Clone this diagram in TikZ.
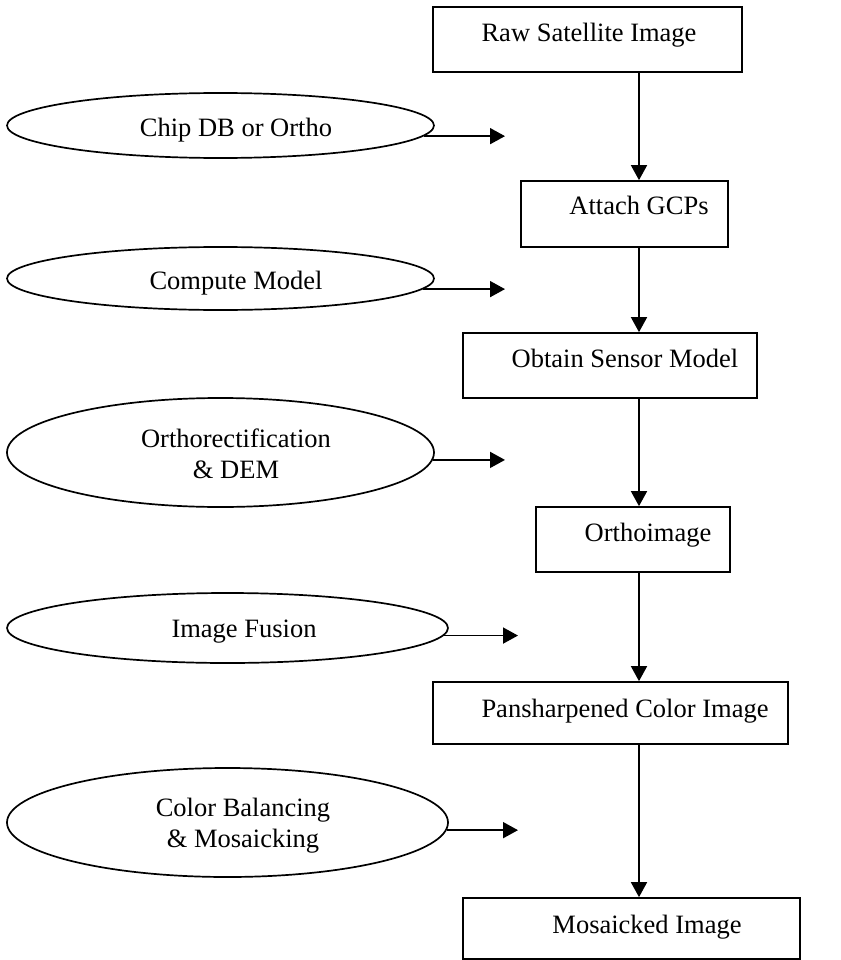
\documentclass[tikz,border=0pt]{standalone}
\usepackage{fontspec}
\setmainfont{Liberation Serif}
\usetikzlibrary{arrows.meta,shapes.geometric}
\begin{document}
\begin{tikzpicture}[x=1pt,y=-1pt,
  box/.style={draw, line width=1.7pt, rectangle, inner sep=0pt},
  oval/.style={draw, line width=1.7pt, ellipse, inner sep=0pt},
  txt/.style={inner sep=0pt, anchor=base, font=\fontsize{26.5}{31}\selectfont},
  txttwo/.style={inner sep=0pt, anchor=center, align=center, font=\fontsize{26.5}{31}\selectfont},
  arr/.style={line width=1.7pt, -{Triangle[length=15pt,width=16pt]}}]
\fill[white] (0,0) rectangle (840,960);
\useasboundingbox (0,0) rectangle (840,960);

% process boxes
\node[box, minimum width=309pt, minimum height=65pt] (raw) at (587.5,39.5) {};
\node[box, minimum width=207pt, minimum height=66pt] (attach) at (624.5,214) {};
\node[box, minimum width=294pt, minimum height=65pt] (obtain) at (610,365.5) {};
\node[box, minimum width=194pt, minimum height=65pt] (orthoimg) at (633,539.5) {};
\node[box, minimum width=355pt, minimum height=62pt] (pansh) at (610.5,713) {};
\node[box, minimum width=337pt, minimum height=61pt] (mosaic) at (631.5,928.5) {};

\node[txt] (rawt) at (589,42) {Raw Satellite Image};
\node[txt] (attacht) at (639,214) {Attach GCPs};
\node[txt] (obtaint) at (625,367) {Obtain Sensor Model};
\node[txt] (orthoimgt) at (648,541) {Orthoimage};
\node[txt] (pansht) at (625,717) {Pansharpened Color Image};
\node[txt] (mosaict) at (647,933) {Mosaicked Image};

% ellipses
\node[oval, minimum width=427pt, minimum height=65pt] (chip) at (220.5,125.5) {};
\node[oval, minimum width=427pt, minimum height=63pt] (compute) at (220.5,278.5) {};
\node[oval, minimum width=427pt, minimum height=109pt] (orthorect) at (220.5,452.5) {};
\node[oval, minimum width=441pt, minimum height=70pt] (fusion) at (227.5,628) {};
\node[oval, minimum width=441pt, minimum height=109pt] (color) at (227.5,822.5) {};

\node[txt] (chipt) at (236,137) {Chip DB or Ortho};
\node[txt] (computet) at (236,289) {Compute Model};
\node[txttwo] (orthorectt) at (236,453.5) {Orthorectification\\ \& DEM};
\node[txt] (fusiont) at (244,637) {Image Fusion};
\node[txttwo] (colort) at (243,825.4) {Color Balancing\\ \& Mosaicking};

% vertical flow arrows
\coordinate (ax) at (639,0);
\draw[arr] (raw.south -| ax) -- (attach.north -| ax);
\draw[arr] (attach.south -| ax) -- (obtain.north -| ax);
\draw[arr] (obtain.south -| ax) -- (orthoimg.north -| ax);
\draw[arr] (orthoimg.south -| ax) -- (pansh.north -| ax);
\draw[arr] (pansh.south -| ax) -- (mosaic.north -| ax);

% side arrows
\coordinate (tipA) at (505,0);
\coordinate (tipB) at (518,0);
\draw[arr] (chip.-3.6) -- (chip.-3.6 -| tipA);
\draw[arr] (compute.-3.3) -- (compute.-3.3 -| tipA);
\draw[arr] (orthorect.-2.9) -- (orthorect.-2.9 -| tipA);
\draw[arr] (fusion.-2.4) -- (fusion.-2.4 -| tipB);
\draw[arr] (color.-2.8) -- (color.-2.8 -| tipB);
\end{tikzpicture}
\end{document}
